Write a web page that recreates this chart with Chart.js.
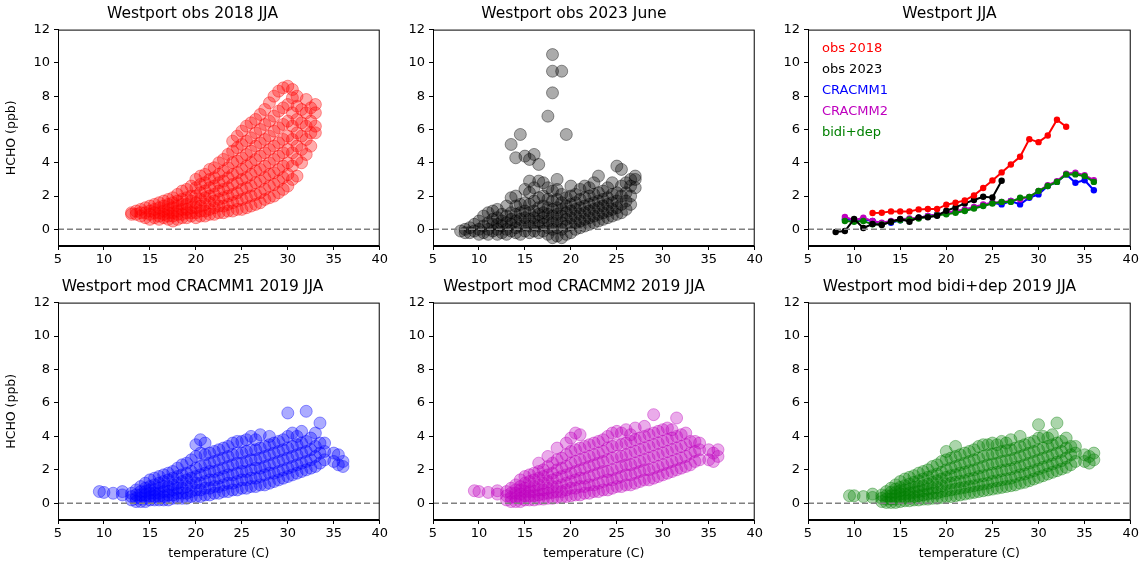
<!DOCTYPE html>
<html>
<head>
<meta charset="utf-8">
<script src="https://cdn.jsdelivr.net/npm/chart.js@4.4.1/dist/chart.umd.min.js"></script>
<style>
  body { margin: 0; background: #fff; width: 1148px; height: 566px; position: relative; overflow: hidden; }
  .cell { position: absolute; }
</style>
</head>
<body>
<div class="cell" id="c1" style="left:0px;top:5px;width:390px;height:263px"><canvas id="p1"></canvas></div>
<div class="cell" id="c2" style="left:388px;top:5px;width:377px;height:263px"><canvas id="p2"></canvas></div>
<div class="cell" id="c3" style="left:763px;top:5px;width:378px;height:263px"><canvas id="p3"></canvas></div>
<div class="cell" id="c4" style="left:0px;top:278px;width:390px;height:287px"><canvas id="p4"></canvas></div>
<div class="cell" id="c5" style="left:388px;top:278px;width:377px;height:287px"><canvas id="p5"></canvas></div>
<div class="cell" id="c6" style="left:763px;top:278px;width:378px;height:287px"><canvas id="p6"></canvas></div>
<script>
// scatter clouds: "x: y y y ..." per temperature column
const obs2018Cols = `13:.9 1.0|13.5:.9 1.1|14:.8 1.0 1.2|14.5:.7 1.0 1.3|15:.6 .9 1.1 1.4|15.5:.7 1.0 1.2 1.5|16:.6 .8 1.0 1.3 1.6|16.5:.7 .9 1.1 1.4 1.7|17:.6 .8 1.0 1.2 1.5 1.8|17.5:.5 .8 1.0 1.3 1.6 1.9|18:.6 .9 1.1 1.4 1.7 2.1|18.5:.7 .9 1.2 1.5 1.8 2.3|19:.7 1.0 1.2 1.5 1.9 2.4|19.5:.8 1.0 1.3 1.7 2.0 2.6|20:.7 1.0 1.3 1.6 2.0 2.5 3.0|20.5:.8 1.1 1.4 1.8 2.2 2.7 3.2|21:.8 1.1 1.5 1.9 2.3 2.8 3.3|21.5:.9 1.2 1.6 2.0 2.5 3.0 3.6|22:.9 1.3 1.7 2.1 2.6 3.1 3.7|22.5:1.0 1.4 1.8 2.3 2.8 3.3 4.0|23:1.0 1.4 1.9 2.4 2.9 3.5 4.2|23.5:1.1 1.5 2.0 2.5 3.1 3.7 4.5|24:1.1 1.6 2.1 2.7 3.3 4.0 4.7 5.3|24.5:1.2 1.7 2.2 2.8 3.4 4.1 4.9 5.6|25:1.2 1.8 2.4 3.0 3.6 4.3 5.1 5.9|25.5:1.3 1.9 2.5 3.1 3.8 4.5 5.3 6.2|26:1.4 2.0 2.6 3.3 4.0 4.7 5.5 6.4|26.5:1.5 2.1 2.8 3.5 4.2 5.0 5.8 6.6|27:1.6 2.2 2.9 3.6 4.4 5.2 6.0 6.9|27.5:1.8 2.4 3.1 3.8 4.6 5.4 6.3 7.2|28:1.9 2.6 3.3 4.0 4.8 5.6 6.5 7.6|28.5:2.0 2.7 3.4 4.2 5.0 5.9 6.8 8.0|29:2.2 2.9 3.6 4.4 5.2 6.1 7.1 8.3|29.5:2.4 3.1 3.8 4.6 5.4 6.3 7.3 8.5|30:2.6 3.3 4.0 4.8 5.6 6.5 7.5 8.6|30.5:3.0 3.8 4.6 5.4 6.2 7.0 7.9 8.4|31:3.2 4.2 5.0 5.8 6.6 7.4 8.0|31.5:4.0 4.8 5.6 6.4 7.2|32:4.5 5.4 6.2 7.0 7.8|32.5:5.0 5.8 6.5 7.3|33:5.8 6.2 7.0 7.5`;

const obs2023Cols = `8:-.1|8.5:-.2 0|9:-.2 .1|9.5:-.1 .3|10:-.3 0 .5|10.5:-.2 .2 .8|11:-.3 0 .4 1.0|11.5:-.1 .3 .6 1.1|12:-.3 0 .3 .7 1.2|12.5:-.2 .2 .5 .9|13:-.3 0 .4 .8 1.4|13.5:-.1 .3 .6 1.0 1.9 5.1|14:-.2 .1 .5 .9 1.4 2.0 4.3|14.5:-.3 .2 .6 1.0 1.5 5.7|15:-.1 .3 .7 1.1 1.6 2.4 4.4|15.5:-.2 .2 .6 1.0 1.5 2.2 2.9 4.2|16:-.1 .3 .7 1.1 1.7 2.5 4.5|16.5:-.2 .2 .5 .9 1.3 1.9 2.9 3.9|17:-.1 .3 .7 1.0 1.4 2.0 2.8|17.5:-.3 .1 .5 .9 1.3 1.8 2.5 6.8|18:-.5 0 .4 .8 1.2 1.7 2.3 8.2 9.5 10.5|18.5:-.4 .1 .5 .9 1.3 1.8 2.4 3.0|19:-.5 0 .4 .8 1.2 1.6 2.1 9.5|19.5:-.3 .2 .6 1.0 1.4 1.9 5.7|20:-.2 .3 .7 1.1 1.5 2.0 2.6|20.5:0 .4 .8 1.2 1.6 2.1|21:.1 .5 .9 1.3 1.8 2.4|21.5:.2 .6 1.0 1.4 1.9 2.6|22:.3 .7 1.1 1.5 2.0 2.5|22.5:.4 .8 1.2 1.6 2.1 2.8|23:.5 .9 1.3 1.7 2.2 3.2|23.5:.6 1.0 1.4 1.8 2.3|24:.7 1.1 1.5 1.9 2.5|24.5:.8 1.2 1.6 2.1 2.8|25:.9 1.3 1.7 2.2 3.8|25.5:1.0 1.5 2.0 2.6 3.6|26:1.2 1.7 2.2 2.8|26.5:1.5 2.0 2.6 3.0|27:2.5 3.0 3.2`;

const cracmm1Cols = `9.5:.7|10:.65|11:.6|12:.5 .7|13:.2 .4 .6|13.5:.1 .3 .5 .8|14:.1 .3 .5 .7 1.0|14.5:.1 .3 .5 .7 .9 1.2|15:.2 .4 .6 .8 1.0 1.4|15.5:.2 .4 .6 .8 1.1 1.5|16:.2 .4 .6 .9 1.2 1.6|16.5:.2 .4 .7 1.0 1.3 1.7|17:.2 .5 .7 1.0 1.4 1.8|17.5:.3 .5 .8 1.1 1.5 1.9|18:.3 .6 .9 1.2 1.6 2.1|18.5:.3 .6 .9 1.3 1.7 2.3|19:.3 .6 1.0 1.4 1.8 2.4|19.5:.4 .7 1.1 1.5 1.9 2.6|20:.4 .8 1.2 1.6 2.1 2.8 3.5|20.5:.4 .8 1.2 1.7 2.2 3.0 3.8|21:.5 .9 1.3 1.8 2.3 2.9 3.6|21.5:.5 .9 1.4 1.9 2.4 3.0|22:.6 1.0 1.4 1.9 2.5 3.1|22.5:.6 1.0 1.5 2.0 2.6 3.2|23:.7 1.1 1.6 2.1 2.7 3.3|23.5:.7 1.2 1.7 2.2 2.8 3.4|24:.8 1.2 1.7 2.3 2.9 3.6|24.5:.8 1.3 1.8 2.4 3.0 3.7|25:.9 1.4 1.9 2.4 3.0 3.7|25.5:.9 1.4 1.9 2.5 3.1 3.8|26:1.0 1.5 2.0 2.6 3.2 4.0|26.5:1.0 1.5 2.1 2.6 3.2 3.8|27:1.1 1.6 2.1 2.7 3.3 4.1|27.5:1.1 1.7 2.2 2.8 3.4|28:1.2 1.8 2.3 2.9 3.5 4.0|28.5:1.3 1.8 2.4 3.0 3.6|29:1.4 1.9 2.5 3.1 3.7|29.5:1.5 2.0 2.6 3.2 3.8|30:1.6 2.1 2.7 3.3 4.0 5.4|30.5:1.7 2.2 2.8 3.4 4.2|31:1.8 2.3 2.9 3.5 4.0|31.5:1.9 2.4 3.0 3.6 4.3|32:2.0 2.5 3.1 3.7 5.5|32.5:2.1 2.6 3.2 3.9|33:2.2 2.8 3.4 4.2|33.5:2.4 3.0 3.6 4.8|34:2.6 3.1 3.6|35:2.5 3.0|35.5:2.3 2.9|36:2.2 2.5`;

const cracmm2Cols = `9.5:.75|10:.7|11:.65|12:.55 .75|13:.2 .45 .7|13.5:.1 .35 .6 .9|14:.1 .35 .6 .8 1.1|14.5:.1 .3 .55 .8 1.0 1.4|15:.2 .45 .7 .9 1.2 1.6|15.5:.2 .45 .7 .95 1.3 1.7|16:.2 .45 .7 1.0 1.4 1.8|16.5:.25 .5 .8 1.1 1.5 1.9 2.4|17:.25 .55 .8 1.2 1.6 2.0|17.5:.3 .6 .9 1.3 1.7 2.2 2.8|18:.3 .65 1.0 1.4 1.8 2.4|18.5:.35 .7 1.0 1.5 2.0 2.6 3.3|19:.35 .7 1.1 1.6 2.1 2.7|19.5:.4 .8 1.2 1.7 2.2 2.9 3.6|20:.45 .9 1.3 1.8 2.4 3.1 3.9|20.5:.5 .9 1.4 1.9 2.5 3.2 4.2|21:.5 1.0 1.5 2.0 2.6 3.3 4.1|21.5:.6 1.0 1.5 2.1 2.7 3.4|22:.6 1.1 1.6 2.2 2.8 3.5|22.5:.7 1.1 1.7 2.3 2.9 3.6|23:.7 1.2 1.8 2.4 3.0 3.7|23.5:.8 1.3 1.9 2.5 3.1 3.8|24:.8 1.4 1.9 2.6 3.3 4.0|24.5:.9 1.4 2.0 2.7 3.4 4.2|25:1.0 1.5 2.1 2.8 3.5 4.3|25.5:1.0 1.6 2.2 2.8 3.5 4.2|26:1.1 1.7 2.3 2.9 3.6 4.4|26.5:1.1 1.7 2.3 3.0 3.7 4.1|27:1.2 1.8 2.4 3.1 3.8 4.5|27.5:1.3 1.9 2.5 3.2 3.9|28:1.4 2.0 2.6 3.3 4.0 4.6|28.5:1.4 2.0 2.7 3.4 4.1|29:1.5 2.1 2.8 3.5 4.2 5.3|29.5:1.6 2.2 2.9 3.6 4.3|30:1.7 2.3 3.0 3.7 4.4|30.5:1.8 2.4 3.1 3.8 4.5|31:1.9 2.5 3.2 3.9 4.4|31.5:2.0 2.6 3.3 4.0 5.1|32:2.1 2.7 3.4 4.1|32.5:2.2 2.8 3.5 4.2|33:2.3 3.0 3.7|33.5:2.5 3.1 3.7|34:2.6 3.2 3.6|35:2.6 3.2|35.5:2.5 3.0|36:2.8 3.2`;

const bidiCols = `9.5:.45|10:.45|11:.4|12:.35 .55|13:.1 .3 .5|13.5:.05 .25 .45 .7|14:.05 .25 .45 .65 .9|14.5:.05 .25 .45 .65 .85 1.1|15:.1 .35 .55 .75 .95 1.3|15.5:.15 .35 .55 .8 1.05 1.45|16:.15 .4 .6 .85 1.15 1.55|16.5:.2 .4 .65 .95 1.25 1.65|17:.2 .45 .7 1.0 1.35 1.8|17.5:.25 .5 .75 1.05 1.45 1.9|18:.25 .55 .85 1.15 1.55 2.0|18.5:.3 .6 .9 1.25 1.65 2.2|19:.3 .6 .95 1.35 1.75 2.3|19.5:.35 .7 1.05 1.45 1.85 2.5|20:.4 .75 1.15 1.55 2.0 2.6 3.1|20.5:.4 .8 1.2 1.65 2.1 2.7|21:.45 .85 1.25 1.7 2.2 2.8 3.4|21.5:.5 .9 1.3 1.8 2.3 2.9|22:.55 .95 1.35 1.85 2.4 3.0|22.5:.6 1.0 1.45 1.95 2.5 3.1|23:.65 1.05 1.5 2.0 2.6 3.2|23.5:.7 1.1 1.6 2.1 2.7 3.4|24:.75 1.15 1.65 2.2 2.8 3.5|24.5:.8 1.2 1.7 2.3 2.9 3.5|25:.85 1.3 1.8 2.35 2.95 3.6|25.5:.9 1.35 1.85 2.4 3.0 3.5|26:.95 1.4 1.95 2.5 3.1 3.7|26.5:1.0 1.45 2.0 2.55 3.15 3.6|27:1.05 1.5 2.05 2.6 3.2 3.8|27.5:1.1 1.6 2.15 2.7 3.3|28:1.2 1.7 2.2 2.8 3.4 4.0|28.5:1.25 1.75 2.3 2.9 3.5|29:1.35 1.85 2.4 3.0 3.6|29.5:1.45 1.95 2.5 3.1 3.7|30:1.55 2.05 2.6 3.2 3.9 4.7|30.5:1.65 2.15 2.7 3.3 4.0|31:1.75 2.25 2.8 3.4 3.9|31.5:1.85 2.35 2.9 3.5 4.1|32:1.95 2.45 3.0 3.6 4.8|32.5:2.05 2.55 3.1 3.7|33:2.15 2.7 3.3 3.9|33.5:2.3 2.9 3.4|34:2.5 3.0 3.4|35:2.5 2.9|35.5:2.4 2.8|36:2.6 3.0`;

// binned means shown in the third panel
const obs2018MeanX = [12,13,14,15,16,17,18,19,20,21,22,23,24,25,26,27,28,29,30,31,32,33];
const obs2018MeanY = [0.98,1.0,1.08,1.08,1.08,1.2,1.22,1.22,1.48,1.6,1.74,2.04,2.48,2.94,3.42,3.9,4.36,5.42,5.24,5.64,6.58,6.16];
const obs2023MeanX = [8,9,10,11,12,13,14,15,16,17,18,19,20,21,22,23,24,25,26];
const obs2023MeanY = [-0.16,-0.1,0.62,0.08,0.32,0.26,0.46,0.62,0.46,0.72,0.72,0.82,1.12,1.32,1.56,1.76,1.96,1.92,2.92];
const modMeanX = [9,10,11,12,13,14,15,16,17,18,19,20,21,22,23,24,25,26,27,28,29,30,31,32,33,34,35,36];
const cracmm1MeanY = [0.6,0.55,0.6,0.5,0.35,0.4,0.55,0.6,0.7,0.8,0.9,0.95,1.05,1.15,1.3,1.45,1.6,1.5,1.7,1.5,1.9,2.1,2.6,2.85,3.3,2.8,2.95,2.35];
const cracmm2MeanY = [0.75,0.55,0.7,0.5,0.4,0.5,0.6,0.65,0.7,0.8,0.9,1.0,1.1,1.2,1.35,1.5,1.6,1.65,1.7,1.8,1.95,2.3,2.65,2.9,3.35,3.4,3.25,2.95];
const bidiMeanY = [0.5,0.45,0.5,0.3,0.3,0.45,0.55,0.6,0.65,0.75,0.85,0.9,1.0,1.1,1.25,1.4,1.55,1.65,1.65,1.9,1.95,2.3,2.6,2.85,3.3,3.3,3.2,2.85];

const meanLabels = ['obs 2018', 'obs 2023', 'CRACMM1', 'CRACMM2', 'bidi+dep'];
const meanColors = ['#ff0000', '#000000', '#0000ff', '#bf00bf', '#008000'];

const xTicks = [5,10,15,20,25,30,35,40];
const yTicks = [0,2,4,6,8,10,12];

function parseCols(str) {
  const pts = [];
  str.split('|').forEach(col => {
    const [x, ys] = col.split(':');
    ys.trim().split(/\s+/).forEach(y => pts.push({ x: parseFloat(x), y: parseFloat(y) }));
  });
  return pts;
}

function zip(xs, ys) {
  return xs.map((x, i) => ({ x, y: ys[i] }));
}

Chart.defaults.font.family = 'DejaVu Sans';
Chart.defaults.font.size = 13;
Chart.defaults.color = '#000';
Chart.defaults.animation = false;

// frame box + dashed zero line + optional colored-text legend
const framePlugin = {
  id: 'frame',
  afterDatasetsDraw(chart) {
    const { ctx, chartArea: a, scales } = chart;
    const y0 = scales.y.getPixelForValue(0);
    ctx.save();
    ctx.strokeStyle = '#808080';
    ctx.lineWidth = 1.5;
    ctx.setLineDash([6, 3]);
    ctx.beginPath();
    ctx.moveTo(a.left, y0);
    ctx.lineTo(a.right, y0);
    ctx.stroke();
    ctx.setLineDash([]);
    ctx.strokeStyle = '#000';
    ctx.lineWidth = 1;
    ctx.strokeRect(a.left + 0.5, a.top + 0.5, a.width - 1, a.height - 1);
    const leg = chart.options.plugins.frame && chart.options.plugins.frame.legend;
    if (leg) {
      ctx.font = '13px DejaVu Sans';
      ctx.textBaseline = 'middle';
      leg.forEach((t, i) => {
        ctx.fillStyle = meanColors[i];
        ctx.fillText(t, a.left + 14, a.top + 19 + i * 21);
      });
    }
    ctx.restore();
  }
};

function makeChart(id, title, datasets, leftCol, bottomRow, legend) {
  new Chart(document.getElementById(id), {
    type: 'scatter',
    data: { datasets },
    options: {
      responsive: true,
      maintainAspectRatio: false,
      layout: { padding: { right: 5, top: 0, bottom: 0 } },
      plugins: {
        legend: { display: false },
        tooltip: { enabled: false },
        title: { display: true, text: title, font: { size: 15.5, weight: 'normal' }, padding: { top: 0, bottom: 6 }, color: '#000' },
        frame: { legend }
      },
      scales: {
        x: {
          min: 5, max: 40,
          afterBuildTicks: s => { s.ticks = xTicks.map(v => ({ value: v })); },
          afterFit: s => { s.height = bottomRow ? 45 : 22; },
          grid: { drawOnChartArea: false, drawTicks: true, tickLength: 4, color: '#000' },
          border: { color: '#000' },
          ticks: { padding: 2, color: '#000' },
          title: { display: bottomRow, text: 'temperature (C)', font: { size: 12.5 }, padding: { top: 2 }, color: '#000' }
        },
        y: {
          min: -1, max: 12,
          afterBuildTicks: s => { s.ticks = yTicks.map(v => ({ value: v })); },
          afterFit: s => { s.width = leftCol ? 58 : 45; },
          grid: { drawOnChartArea: false, drawTicks: true, tickLength: 4, color: '#000' },
          border: { color: '#000' },
          ticks: { padding: 4, color: '#000' },
          title: { display: leftCol, text: 'HCHO (ppb)', font: { size: 12.5 }, padding: { bottom: 2 }, color: '#000' }
        }
      }
    },
    plugins: [framePlugin]
  });
}

function cloud(pts, rgb) {
  return {
    data: pts,
    backgroundColor: `rgba(${rgb},0.33)`,
    borderColor: `rgba(${rgb},0.4)`,
    borderWidth: 1,
    pointRadius: 6
  };
}

function meanLine(pts, color) {
  return {
    type: 'line', data: pts, showLine: true,
    borderColor: color, backgroundColor: color,
    borderWidth: 2, pointRadius: 3.2, pointBorderWidth: 0
  };
}

makeChart('p1', 'Westport obs 2018 JJA', [cloud(parseCols(obs2018Cols), '255,0,0')], true, false);
makeChart('p2', 'Westport obs 2023 June', [cloud(parseCols(obs2023Cols), '0,0,0')], false, false);
// Chart.js paints the first dataset on top
makeChart('p3', 'Westport JJA', [
  meanLine(zip(obs2018MeanX, obs2018MeanY), meanColors[0]),
  meanLine(zip(obs2023MeanX, obs2023MeanY), meanColors[1]),
  meanLine(zip(modMeanX, bidiMeanY), meanColors[4]),
  meanLine(zip(modMeanX, cracmm2MeanY), meanColors[3]),
  meanLine(zip(modMeanX, cracmm1MeanY), meanColors[2])
], false, false, meanLabels);
makeChart('p4', 'Westport mod CRACMM1 2019 JJA', [cloud(parseCols(cracmm1Cols), '0,0,255')], true, true);
makeChart('p5', 'Westport mod CRACMM2 2019 JJA', [cloud(parseCols(cracmm2Cols), '191,0,191')], false, true);
makeChart('p6', 'Westport mod bidi+dep 2019 JJA', [cloud(parseCols(bidiCols), '0,128,0')], false, true);
</script>
</body>
</html>
